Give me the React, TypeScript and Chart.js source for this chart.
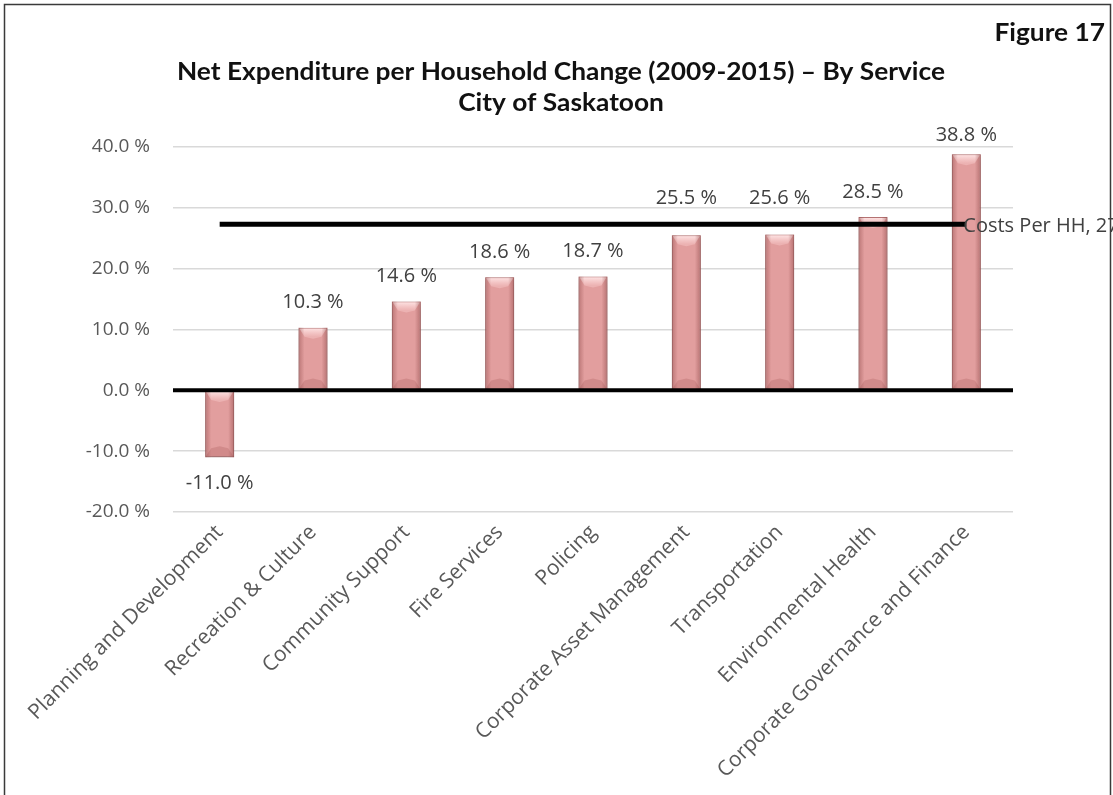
import React, { useEffect, useRef } from "react";
import { Chart, registerables } from "chart.js";

Chart.register(...registerables);

const categories = [
  "Planning and Development",
  "Recreation & Culture",
  "Community Support",
  "Fire Services",
  "Policing",
  "Corporate Asset Management",
  "Transportation",
  "Environmental Health",
  "Corporate Governance and Finance",
];
const changeValues = [-11.0, 10.3, 14.6, 18.6, 18.7, 25.5, 25.6, 28.5, 38.8];
const costsPerHH = [27.3, 27.3, 27.3, 27.3, 27.3, 27.3, 27.3, 27.3, 27.3];
const costsLabel = "Costs Per HH";
const yMin = -20;
const yMax = 40;
const yStep = 10;
const titleLines = [
  "Net Expenditure per Household Change (2009-2015) \u2013 By Service",
  "City of Saskatoon",
];
const figureLabel = "Figure 17";

const fmt = (v: number) => `${v.toFixed(1)} %`;

const TEXT_FONT = "'Open Sans', 'DejaVu Sans', sans-serif";
const TITLE_FONT = "Lato, 'DejaVu Sans', sans-serif";

const decorPlugin = {
  id: "decor",
  beforeDraw(chart: any) {
    const ctx = chart.ctx;
    ctx.save();
    ctx.fillStyle = "#ffffff";
    ctx.fillRect(0, 0, chart.width, chart.height);
    ctx.strokeStyle = "#3a3a3a";
    ctx.lineWidth = 1.5;
    ctx.beginPath();
    ctx.moveTo(4.5, chart.height + 10);
    ctx.lineTo(4.5, 4.5);
    ctx.lineTo(1110.5, 4.5);
    ctx.lineTo(1110.5, chart.height + 10);
    ctx.stroke();
    ctx.restore();
  },
  beforeDatasetDraw(chart: any, args: any) {
    if (chart.data.datasets[args.index].type === "bar") {
      const ctx = chart.ctx;
      ctx.save();
      ctx.shadowColor = "rgba(0,0,0,0.28)";
      ctx.shadowBlur = 7;
      ctx.shadowOffsetY = 4;
    }
  },
  afterDatasetDraw(chart: any, args: any) {
    if (chart.data.datasets[args.index].type !== "bar") return;
    const ctx = chart.ctx;
    ctx.restore();
    const meta = chart.getDatasetMeta(args.index);
    ctx.save();
    meta.data.forEach((el: any) => {
      const w = el.width;
      const l = el.x - w / 2;
      const r = el.x + w / 2;
      const t = Math.min(el.y, el.base);
      const b = Math.max(el.y, el.base);
      const bev = Math.min(9, (b - t) / 3);
      const gT = ctx.createLinearGradient(0, t, 0, t + bev);
      gT.addColorStop(0, "rgba(255,235,235,0.95)");
      gT.addColorStop(1, "rgba(255,215,215,0.35)");
      ctx.fillStyle = gT;
      ctx.beginPath();
      ctx.moveTo(l + 1, t + 1);
      ctx.lineTo(r - 1, t + 1);
      ctx.lineTo(r - 6, t + bev);
      ctx.lineTo(el.x, t + bev + 2);
      ctx.lineTo(l + 6, t + bev);
      ctx.closePath();
      ctx.fill();
      ctx.fillStyle = "rgba(150,70,70,0.22)";
      ctx.beginPath();
      ctx.moveTo(l, b);
      ctx.lineTo(r, b);
      ctx.lineTo(r - 6, b - bev);
      ctx.lineTo(el.x, b - bev - 2);
      ctx.lineTo(l + 6, b - bev);
      ctx.closePath();
      ctx.fill();
      const gL = ctx.createLinearGradient(l, 0, l + 6, 0);
      gL.addColorStop(0, "rgba(140,70,70,0.45)");
      gL.addColorStop(1, "rgba(140,70,70,0)");
      ctx.fillStyle = gL;
      ctx.fillRect(l, t, 6, b - t);
      const gR = ctx.createLinearGradient(r - 6, 0, r, 0);
      gR.addColorStop(0, "rgba(140,70,70,0)");
      gR.addColorStop(1, "rgba(140,70,70,0.5)");
      ctx.fillStyle = gR;
      ctx.fillRect(r - 6, t, 6, b - t);
    });
    ctx.restore();
  },
  afterDatasetsDraw(chart: any) {
    const ctx = chart.ctx;
    const { left, right, top } = chart.chartArea;
    const yScale = chart.scales.y;
    ctx.save();
    const y0 = yScale.getPixelForValue(0);
    ctx.strokeStyle = "#000000";
    ctx.lineWidth = 4;
    ctx.beginPath();
    ctx.moveTo(left, y0);
    ctx.lineTo(right, y0);
    ctx.stroke();

    const lineDs = chart.data.datasets.find((d: any) => d.type === "line");
    const lineY = lineDs ? yScale.getPixelForValue(lineDs.data[0]) : null;

    chart.data.datasets.forEach((ds: any, di: number) => {
      const meta = chart.getDatasetMeta(di);
      ctx.font = `20px ${TEXT_FONT}`;
      ctx.fillStyle = "#404040";
      ctx.textBaseline = "middle";
      if (ds.type === "bar") {
        ctx.textAlign = "center";
        meta.data.forEach((el: any, i: number) => {
          const v = ds.data[i];
          let y = v >= 0 ? el.y - 25 : el.y + 26;
          if (v >= 0 && lineY !== null && Math.abs(y - lineY) < 16) {
            y = lineY - 26;
          }
          if (v >= 0) y = Math.max(y, top - 12);
          ctx.fillText(fmt(v), el.x, y);
        });
      } else if (ds.type === "line") {
        const last = meta.data[meta.data.length - 1];
        const v = ds.data[ds.data.length - 1];
        ctx.textAlign = "left";
        ctx.fillText(`${ds.label}, ${fmt(v)}`, last.x - 3, last.y + 2);
      }
    });
    ctx.restore();
  },
  afterDraw(chart: any) {
    const ctx = chart.ctx;
    ctx.save();
    ctx.fillStyle = "#111111";
    ctx.textBaseline = "middle";
    ctx.font = `bold 25px ${TITLE_FONT}`;
    const w1 = ctx.measureText(titleLines[0]).width;
    const sx = 768 / w1;
    const cx = 561;
    titleLines.forEach((line, i) => {
      ctx.save();
      ctx.translate(cx, 72 + i * 31);
      ctx.scale(sx, 1);
      ctx.textAlign = "center";
      ctx.fillText(line, 0, 0);
      ctx.restore();
    });
    ctx.save();
    ctx.translate(1105, 33);
    ctx.scale(sx, 1);
    ctx.textAlign = "right";
    ctx.fillText(figureLabel, 0, 0);
    ctx.restore();
    ctx.restore();
  },
};

export default function App() {
  const ref = useRef<HTMLCanvasElement | null>(null);
  useEffect(() => {
    let chart: any = null;
    let cancelled = false;
    const build = () => {
      if (cancelled || !ref.current) return;
      chart = new Chart(ref.current, {
        type: "bar",
        data: {
          labels: categories,
          datasets: [
            {
              type: "line",
              label: costsLabel,
              data: costsPerHH,
              borderColor: "#000000",
              borderWidth: 5,
              pointRadius: 0,
              fill: false,
              order: 0,
            } as any,
            {
              type: "bar",
              label: "Change",
              data: changeValues,
              backgroundColor: "#e29e9e",
              borderColor: "#b87575",
              borderWidth: 1,
              barPercentage: 0.31,
              categoryPercentage: 1,
              order: 1,
            } as any,
          ],
        },
        options: {
          animation: false,
          responsive: true,
          maintainAspectRatio: false,
          devicePixelRatio: 1,
          layout: { padding: { left: 0, top: 147, right: 100, bottom: 0 } },
          plugins: {
            legend: { display: false },
            title: { display: false },
            tooltip: { enabled: false },
          },
          scales: {
            x: {
              offset: true,
              grid: { display: false, drawTicks: false },
              border: { display: false },
              ticks: {
                autoSkip: false,
                minRotation: 45,
                maxRotation: 45,
                padding: 8,
                color: "#595959",
                font: { family: TEXT_FONT, size: 21 },
              },
              afterFit: (scale: any) => {
                scale.height = 283;
              },
            },
            y: {
              min: yMin,
              max: yMax,
              ticks: {
                stepSize: yStep,
                padding: 23,
                color: "#595959",
                font: { family: TEXT_FONT, size: 19 },
                callback: (v: any) => fmt(Number(v)),
              },
              grid: {
                drawTicks: false,
                color: "#d9d9d9",
                lineWidth: 1.5,
              },
              border: { display: false },
              afterFit: (scale: any) => {
                scale.width = 173;
              },
            },
          },
        },
        plugins: [decorPlugin],
      });
    };
    const fonts: any = (document as any).fonts;
    if (fonts && fonts.load) {
      Promise.all([
        fonts.load("20px 'Open Sans'"),
        fonts.load("bold 25px Lato"),
      ])
        .catch(() => null)
        .then(build);
    } else {
      build();
    }
    return () => {
      cancelled = true;
      if (chart) chart.destroy();
    };
  }, []);
  return (
    <div style={{ position: "fixed", left: 0, top: 0, width: 1113, height: 795 }}>
      <canvas ref={ref} />
    </div>
  );
}
